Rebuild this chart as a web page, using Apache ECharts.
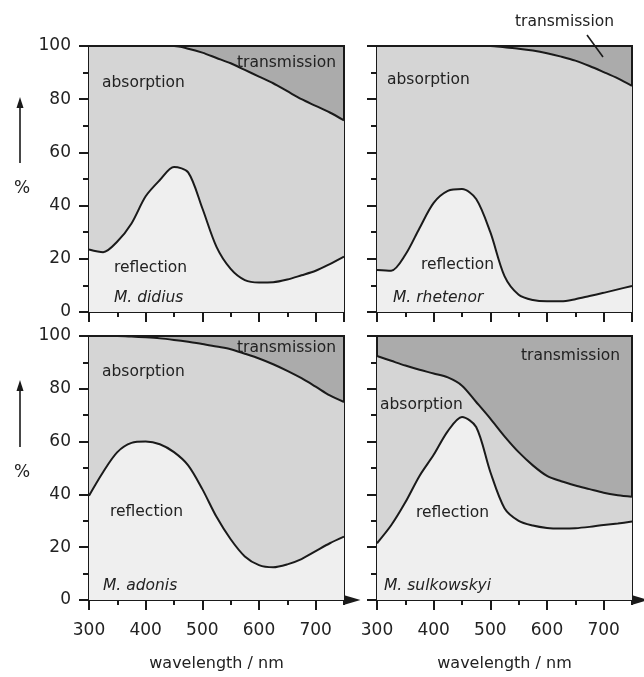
<!DOCTYPE html>
<html>
<head>
<meta charset="utf-8">
<script src="https://cdn.jsdelivr.net/npm/echarts@6/dist/echarts.min.js"></script>
<style>
  html, body { margin: 0; padding: 0; background: #fff; }
  #chart { width: 644px; height: 677px; }
</style>
</head>
<body>
<div id="chart"></div>
<script>
// wavelength grid (nm) shared by every curve
const wavelengths = [300, 325, 350, 375, 400, 425, 450, 475, 500, 525, 550, 575, 600, 625, 650, 675, 700, 725, 750];

// upper curve = reflection + absorption (100 - transmission), lower curve = reflection, in %
const didiusTotal = [100, 100, 100, 100, 100, 100, 100, 99, 97.5, 95.5, 93.5, 91, 88.5, 86, 83, 80, 77.5, 75, 72];
const didiusRefl = [23.5, 22.5, 26.5, 33.3, 43.5, 49.6, 54.5, 52.5, 39, 24.5, 16.2, 12, 11.1, 11.2, 12.2, 13.8, 15.5, 18, 20.8];

const rhetenorTotal = [100, 100, 100, 100, 100, 100, 100, 100, 100, 99.5, 99, 98.3, 97.3, 96, 94.5, 92.5, 90.2, 87.8, 85];
const rhetenorRefl = [15.8, 15.5, 21.5, 31.5, 41, 45.5, 46.2, 42.5, 30, 13.5, 6.5, 4.5, 4, 4, 4.8, 6, 7.2, 8.5, 9.8];

const adonisTotal = [100, 100, 100, 99.8, 99.5, 99.1, 98.5, 97.8, 97, 96, 95, 93.3, 91.5, 89.3, 86.8, 84, 80.8, 77.5, 75];
const adonisRefl = [39.5, 48.5, 56, 59.5, 60, 59, 56, 51, 42, 31.5, 23, 16.5, 13.2, 12.4, 13.5, 15.5, 18.5, 21.5, 24];

const sulkowskyiTotal = [92.4, 90.6, 88.8, 87.2, 85.8, 84.3, 81.2, 75, 68.7, 62, 56, 51, 47, 45, 43.4, 42, 40.6, 39.7, 39.1];
const sulkowskyiRefl = [21.5, 28.3, 37, 47, 55, 64, 69.3, 65.5, 48.5, 34.8, 30, 28.2, 27.3, 27.1, 27.2, 27.7, 28.4, 29, 29.7];

const xTicks = [300, 400, 500, 600, 700];
const yTicks = [0, 20, 40, 60, 80, 100];

const colReflection = '#efefef';
const colAbsorption = '#d5d5d5';
const colTransmission = '#ababab';
const ink = '#1a1a1a';
const font = '"DejaVu Sans", sans-serif';

const panels = [
  { total: didiusTotal, refl: didiusRefl, left: 89, top: 46, height: 266, bottom: false, leftLabels: true },
  { total: rhetenorTotal, refl: rhetenorRefl, left: 377, top: 46, height: 266, bottom: false, leftLabels: false },
  { total: adonisTotal, refl: adonisRefl, left: 89, top: 336, height: 264, bottom: true, leftLabels: true },
  { total: sulkowskyiTotal, refl: sulkowskyiRefl, left: 377, top: 336, height: 264, bottom: true, leftLabels: false }
];

const pairs = (ys) => wavelengths.map((w, k) => [w, ys[k]]);

const grid = [], xAxis = [], yAxis = [], series = [];

panels.forEach((p, i) => {
  grid.push({
    left: p.left, top: p.top, width: 255, height: p.height,
    show: true, backgroundColor: colTransmission,
    borderColor: ink, borderWidth: 2
  });
  // main x axis: line + short ticks every 50 nm
  xAxis.push({
    type: 'value', gridIndex: i, position: 'bottom',
    min: xTicks[0], max: 750, interval: 50,
    axisLine: {
      show: true, lineStyle: { color: ink, width: 2 },
      symbol: p.bottom ? ['none', 'triangle'] : ['none', 'none'],
      symbolSize: [10, 17], symbolOffset: [0, 8]
    },
    axisTick: { show: true, length: 5, lineStyle: { color: ink, width: 2 } },
    axisLabel: { show: false },
    splitLine: { show: false }
  });
  // overlay x axis: long ticks every 100 nm + labels
  xAxis.push({
    type: 'value', gridIndex: i, position: 'bottom',
    min: xTicks[0], max: 750, interval: 100,
    axisLine: { show: false },
    axisTick: { show: true, length: 10, lineStyle: { color: ink, width: 2 } },
    axisLabel: {
      show: p.bottom, showMaxLabel: false, margin: 22,
      fontSize: 17, fontFamily: font, color: '#222'
    },
    name: p.bottom ? 'wavelength / nm' : '',
    nameLocation: 'middle', nameGap: 56,
    nameTextStyle: { fontSize: 16, fontFamily: font, color: '#222' },
    splitLine: { show: false }
  });
  yAxis.push({
    type: 'value', gridIndex: i,
    min: yTicks[0], max: yTicks[yTicks.length - 1], interval: 20,
    axisLine: { show: true, lineStyle: { color: ink, width: 2 } },
    axisTick: { show: true, length: 10, lineStyle: { color: ink, width: 2 } },
    minorTick: { show: true, splitNumber: 2, length: 6, lineStyle: { color: ink, width: 2 } },
    axisLabel: { show: p.leftLabels, margin: 18, fontSize: 17, fontFamily: font, color: '#222' },
    splitLine: { show: false }
  });
  series.push({
    type: 'line', xAxisIndex: 2 * i, yAxisIndex: i,
    data: pairs(p.total), smooth: 0.3, symbol: 'none',
    lineStyle: { color: ink, width: 2 },
    areaStyle: { color: colAbsorption, opacity: 1, origin: 'start' },
    z: 2
  });
  series.push({
    type: 'line', xAxisIndex: 2 * i, yAxisIndex: i,
    data: pairs(p.refl), smooth: 0.3, symbol: 'none',
    lineStyle: { color: ink, width: 2 },
    areaStyle: { color: colReflection, opacity: 1, origin: 'start' },
    z: 3
  });
});

// region labels
const labels = [
  ['absorption', 102, 83, false], ['transmission', 237, 63, false],
  ['reflection', 114, 268, false], ['M. didius', 114, 298, true],
  ['absorption', 387, 80, false], ['transmission', 515, 22, false],
  ['reflection', 421, 265, false], ['M. rhetenor', 393, 298, true],
  ['absorption', 102, 372, false], ['transmission', 237, 348, false],
  ['reflection', 110, 512, false], ['M. adonis', 103, 586, true],
  ['transmission', 521, 356, false], ['absorption', 380, 405, false],
  ['reflection', 416, 513, false], ['M. sulkowskyi', 384, 586, true]
];

const graphic = labels.map(([t, x, y, it]) => ({
  type: 'text', x: x, y: y, z: 100,
  style: {
    text: t, fill: '#222', verticalAlign: 'middle',
    font: (it ? 'italic ' : '') + '15.5px ' + font
  }
}));

// "%" with an up arrow for each row
[[97, 163, 189], [380, 447, 473]].forEach(([tip, base, pct]) => {
  graphic.push({ type: 'line', z: 100, shape: { x1: 20, y1: base, x2: 20, y2: tip + 8 }, style: { stroke: ink, lineWidth: 1.6 } });
  graphic.push({ type: 'polygon', z: 100, shape: { points: [[20, tip], [16.5, tip + 11], [23.5, tip + 11]] }, style: { fill: ink } });
  graphic.push({ type: 'text', x: 22, y: pct, z: 100, style: { text: '%', fill: '#222', align: 'center', verticalAlign: 'middle', font: '17px ' + font } });
});

// leader line for the top-right "transmission"
graphic.push({ type: 'line', z: 100, shape: { x1: 587, y1: 35, x2: 603, y2: 57 }, style: { stroke: ink, lineWidth: 1.6 } });

const chart = echarts.init(document.getElementById('chart'));
chart.setOption({
  animation: false,
  grid: grid,
  xAxis: xAxis,
  yAxis: yAxis,
  series: series,
  graphic: graphic
});
</script>
</body>
</html>
